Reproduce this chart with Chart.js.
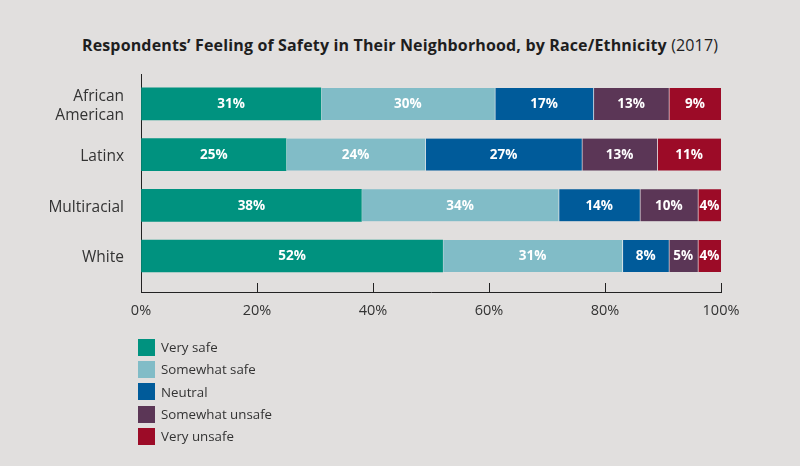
<!DOCTYPE html>
<html><head><meta charset="utf-8">
<script src="https://cdn.jsdelivr.net/npm/chart.js@4/dist/chart.umd.min.js"></script>
<style>
html,body{margin:0;padding:0;background:#e1dfde;}
#wrap{position:relative;width:800px;height:466px;background:#e1dfde;font-family:"Open Sans",sans-serif;color:#222;}
#title{position:absolute;left:0;top:34px;width:800px;text-align:center;font-size:16px;font-weight:700;color:#1e1e1e;letter-spacing:0.15px;}
#title span{font-weight:400;}
#legend{position:absolute;left:138px;top:336px;}
.li{display:flex;align-items:center;height:22.3px;font-size:13.3px;color:#333;}
.sw{width:17px;height:17px;margin-right:6px;}
canvas{position:absolute;left:0;top:0;}
</style></head>
<body><div id="wrap">
<div id="title">Respondents’ Feeling of Safety in Their Neighborhood, by Race/Ethnicity <span>(2017)</span></div>
<canvas id="c" width="800" height="466"></canvas>
<div id="legend"></div>
</div>
<script>
const categories = [["African","American"], "Latinx", "Multiracial", "White"];
const seriesNames = ["Very safe", "Somewhat safe", "Neutral", "Somewhat unsafe", "Very unsafe"];
const seriesColors = ["#00927f", "#81bcc7", "#005b9a", "#5b3656", "#9c0b27"];
const verySafe = [31, 25, 38, 52];
const somewhatSafe = [30, 24, 34, 31];
const neutral = [17, 27, 14, 8];
const somewhatUnsafe = [13, 13, 10, 5];
const veryUnsafe = [9, 11, 4, 4];
const xTicks = [0, 20, 40, 60, 80, 100];

const seriesValues = [verySafe, somewhatSafe, neutral, somewhatUnsafe, veryUnsafe];

const datasets = seriesNames.map((name, s) => ({
  label: name,
  data: seriesValues[s].map((v, i) => ({x: v, y: i})),
  backgroundColor: seriesColors[s],
  borderColor: "rgba(255,255,255,0.55)",
  borderWidth: s === 0 ? 0 : {left: 1, right: 0, top: 0, bottom: 0},
  borderSkipped: false,
  barThickness: 32,
  stack: "s"
}));

const labelPlugin = {
  id: "segLabels",
  afterDatasetsDraw(chart) {
    const ctx = chart.ctx;
    ctx.save();
    ctx.fillStyle = "#ffffff";
    ctx.font = "700 13.5px 'Open Sans', sans-serif";
    ctx.textAlign = "center";
    ctx.textBaseline = "middle";
    chart.data.datasets.forEach((ds, di) => {
      const meta = chart.getDatasetMeta(di);
      meta.data.forEach((el, i) => {
        const p = el.getProps(["x", "y", "base"], true);
        ctx.fillText(ds.data[i].x + "%", (p.x + p.base) / 2, p.y + 0.5);
      });
    });
    ctx.restore();
  }
};

const chart = new Chart(document.getElementById("c"), {
  type: "bar",
  data: {datasets},
  plugins: [labelPlugin],
  options: {
    indexAxis: "y",
    responsive: false,
    animation: false,
    layout: {padding: {top: 74, right: 79, left: 0, bottom: 0}},
    plugins: {legend: {display: false}, tooltip: {enabled: false}, title: {display: false}},
    scales: {
      x: {
        type: "linear", stacked: true, min: 0, max: 100, bounds: "data",
        afterBuildTicks(scale) { scale.ticks = xTicks.map(v => ({value: v})); },
        ticks: {callback: v => v + "%", color: "#333", font: {family: "'Open Sans', sans-serif", size: 14.5}, padding: 19, maxRotation: 0},
        grid: {drawOnChartArea: false, drawTicks: true, tickLength: -9, color: "#222", lineWidth: 1},
        border: {display: true, color: "#222", width: 1},
        afterFit(scale) { scale.height = 174; }
      },
      y: {
        type: "linear", reverse: true, min: -0.59, max: 3.71, bounds: "data", offset: false,
        afterBuildTicks(scale) { scale.ticks = categories.map((c, i) => ({value: i})); },
        ticks: {callback: (v) => categories[v], color: "#333", font: {family: "'Open Sans', sans-serif", size: 15.5, lineHeight: 1.24}, padding: 17, labelOffset: 2},
        grid: {display: false, drawTicks: false, offset: false},
        border: {display: true, color: "#222", width: 1},
        afterFit(scale) { scale.width = 141; }
      }
    }
  }
});

const leg = document.getElementById("legend");
chart.data.datasets.forEach(ds => {
  const d = document.createElement("div");
  d.className = "li";
  const sw = document.createElement("div");
  sw.className = "sw";
  sw.style.background = ds.backgroundColor;
  const t = document.createElement("span");
  t.textContent = ds.label;
  d.appendChild(sw); d.appendChild(t);
  leg.appendChild(d);
});
</script>
</body></html>
